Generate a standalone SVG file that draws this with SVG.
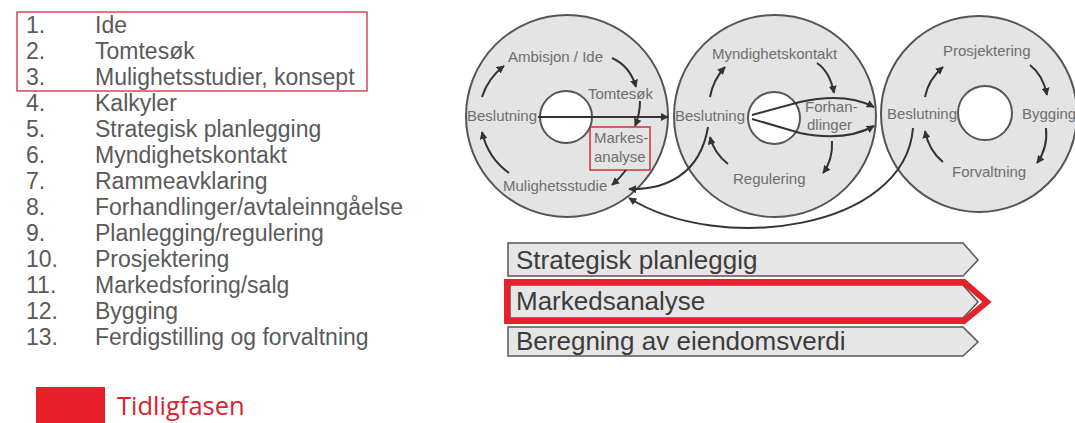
<svg xmlns="http://www.w3.org/2000/svg" width="1075" height="423" viewBox="0 0 1075 423">
<style>
.li{font-family:"Liberation Sans",Arial,sans-serif;font-size:23px;fill:#5a5a5a}
.cl{font-family:"Liberation Sans",Arial,sans-serif;font-size:15px;fill:#6e6e6e}
.bt{font-family:"Liberation Sans",Arial,sans-serif;font-size:26px;fill:#3c3c3c}
.outer{fill:#e4e4e4;stroke:#555;stroke-width:2}
.inner{fill:#fff;stroke:#555;stroke-width:2}
.arr{fill:none;stroke:#333;stroke-width:2;marker-end:url(#ah)}
.bar{fill:#e6e6e6;stroke:#555;stroke-width:1.5}
</style>
<defs>
<marker id="ah" viewBox="0 0 10 10" refX="9" refY="5" markerWidth="8" markerHeight="8" markerUnits="userSpaceOnUse" orient="auto">
<path d="M0,0 L10,5 L0,10 z" fill="#333"/>
</marker>
</defs>
<rect width="1075" height="423" fill="#fff"/>

<g id="list">
<rect x="17" y="12" width="350" height="79" fill="none" stroke="#d9435a" stroke-width="1.5"/>
<text class="li" x="26" y="33">1.</text><text class="li" x="95" y="33">Ide</text>
<text class="li" x="26" y="59">2.</text><text class="li" x="95" y="59">Tomtesøk</text>
<text class="li" x="26" y="85">3.</text><text class="li" x="95" y="85">Mulighetsstudier, konsept</text>
<text class="li" x="26" y="111">4.</text><text class="li" x="95" y="111">Kalkyler</text>
<text class="li" x="26" y="137">5.</text><text class="li" x="95" y="137">Strategisk planlegging</text>
<text class="li" x="26" y="163">6.</text><text class="li" x="95" y="163">Myndighetskontakt</text>
<text class="li" x="26" y="189">7.</text><text class="li" x="95" y="189">Rammeavklaring</text>
<text class="li" x="26" y="215">8.</text><text class="li" x="95" y="215">Forhandlinger/avtaleinngåelse</text>
<text class="li" x="26" y="241">9.</text><text class="li" x="95" y="241">Planlegging/regulering</text>
<text class="li" x="26" y="267">10.</text><text class="li" x="95" y="267">Prosjektering</text>
<text class="li" x="26" y="293">11.</text><text class="li" x="95" y="293">Markedsforing/salg</text>
<text class="li" x="26" y="319">12.</text><text class="li" x="95" y="319">Bygging</text>
<text class="li" x="26" y="345">13.</text><text class="li" x="95" y="345">Ferdigstilling og forvaltning</text>
</g>

<g id="legend">
<rect x="36" y="387" width="69" height="36" fill="#e8202a"/>
<text x="117" y="415" font-family="'Open Sans','Liberation Sans',sans-serif" font-size="25.5" fill="#d9232e">Tidligfasen</text>
</g>

<g id="cycle-1">
<circle class="outer" cx="567" cy="116" r="101"/>
<circle class="inner" cx="566" cy="117" r="26"/>
<text class="cl" x="508" y="62">Ambisjon / Ide</text>
<text class="cl" x="588" y="99">Tomtesøk</text>
<text class="cl" x="467" y="121">Beslutning</text>
<rect x="590" y="127" width="60" height="43" fill="none" stroke="#d0313f" stroke-width="1.5"/>
<text class="cl" x="594" y="143">Markes-</text>
<text class="cl" x="594" y="162">analyse</text>
<text class="cl" x="503" y="191">Mulighetsstudie</text>
</g>

<g id="cycle-2">
<circle class="outer" cx="775" cy="116" r="101"/>
<circle class="inner" cx="774" cy="118" r="26"/>
<text class="cl" x="712" y="59">Myndighetskontakt</text>
<text class="cl" x="675" y="121">Beslutning</text>
<text class="cl" x="805" y="112">Forhan-</text>
<text class="cl" x="807" y="130">dlinger</text>
<text class="cl" x="733" y="184">Regulering</text>
</g>

<g id="cycle-3">
<circle class="outer" cx="979" cy="114" r="98"/>
<circle class="inner" cx="985" cy="113" r="27"/>
<text class="cl" x="943" y="56">Prosjektering</text>
<text class="cl" x="887" y="119">Beslutning</text>
<text class="cl" x="1022" y="119">Bygging</text>
<text class="cl" x="952" y="177">Forvaltning</text>
</g>

<g id="bars">
<polygon class="bar" points="508,243 963,243 978,260 963,276 508,276"/>
<text class="bt" x="516" y="269">Strategisk planleggig</text>
<polygon class="bar" points="510,285 963,285 978,302 963,318 510,318"/>
<polygon points="507,282 964,282 987,302 964,321 507,321" fill="none" stroke="#e8202a" stroke-width="6" stroke-linejoin="miter"/>
<text class="bt" x="516" y="310">Markedsanalyse</text>
<polygon class="bar" points="508,327 963,327 978,342 963,356 508,356"/>
<text class="bt" x="516" y="350">Beregning av eiendomsverdi</text>
</g>

<g id="connectors">
<path class="arr" d="M612 58 Q630 66 636 87"/>
<path class="arr" d="M640 101 Q640 114 635 126"/>
<path class="arr" d="M626 170 Q620 178 612 185"/>
<path class="arr" d="M509 173 Q488 158 482 132"/>
<path class="arr" d="M482 97 Q488 78 504 66"/>
<path class="arr" d="M817 63 Q830 72 834 93"/>
<path class="arr" d="M832 141 Q833 160 823 173"/>
<path class="arr" d="M728 164 Q714 153 710 137"/>
<path class="arr" d="M710 97 Q713 80 725 67"/>
<path class="arr" d="M1030 65 Q1043 75 1047 95"/>
<path class="arr" d="M1046 128 Q1048 148 1037 163"/>
<path class="arr" d="M943 162 Q929 151 925 131"/>
<path class="arr" d="M925 97 Q928 80 943 67"/>
<path class="arr" stroke-width="2.5" d="M538 117 L668 117"/>
<path class="arr" d="M752 115 L800 102 Q845 92 874 107"/>
<path class="arr" d="M752 119 L800 133 Q845 142 874 126"/>
<path class="arr" d="M708 127 C700 175 665 190 629 189"/>
<path class="arr" d="M913 128 C905 230 720 255 629 198"/>
</g>
</svg>
